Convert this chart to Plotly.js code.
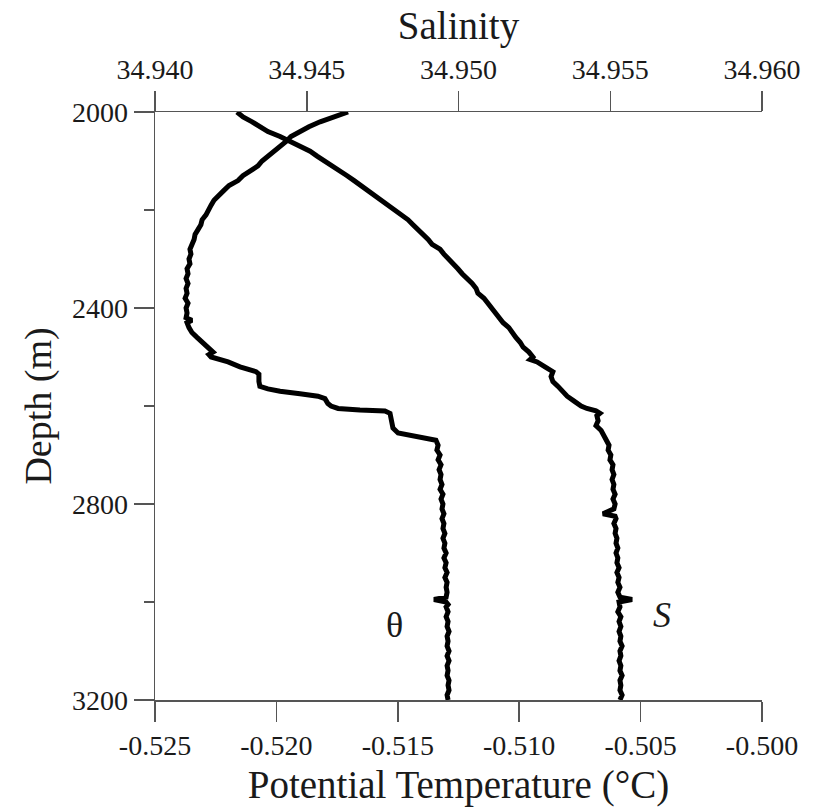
<!DOCTYPE html>
<html>
<head>
<meta charset="utf-8">
<script src="https://cdn.plot.ly/plotly-3.0.1.min.js"></script>
<style>
  html, body { margin: 0; padding: 0; background: #ffffff; }
  #chart { width: 821px; height: 810px; }
</style>
</head>
<body>
<div id="chart"></div>
<script>
// ---- Potential temperature profile (bottom axis) ----
const thetaDepth = [2000,2005,2010,2020,2030,2040,2050,2060,2070,2080,2090,2100,2110,2120,2130,2140,2150,2160,2170,2180,2190,2200,2210,2220,2230,2240,2250,2260,2270,2280,2290,2300,2310,2320,2330,2340,2350,2360,2370,2380,2390,2400,2410,2420,2425,2430,2440,2450,2460,2470,2480,2490,2495,2500,2510,2520,2530,2535,2550,2560,2565,2570,2575,2580,2585,2595,2600,2605,2608,2610,2615,2630,2645,2655,2660,2665,2670,2680,2690,2700,2710,2720,2730,2740,2750,2760,2770,2780,2790,2800,2810,2820,2830,2840,2850,2860,2870,2880,2890,2900,2910,2920,2930,2940,2950,2960,2970,2980,2990,2995,3000,3005,3010,3020,3030,3040,3050,3060,3070,3080,3090,3100,3110,3120,3130,3140,3150,3160,3170,3180,3190,3200];
const thetaValues = [-0.51705,-0.51738,-0.51767,-0.51820,-0.51866,-0.51907,-0.51940,-0.51960,-0.51985,-0.52010,-0.52039,-0.52059,-0.52076,-0.52109,-0.52138,-0.52158,-0.52195,-0.52216,-0.52236,-0.52257,-0.52269,-0.52278,-0.52290,-0.52306,-0.52311,-0.52323,-0.52335,-0.52339,-0.52348,-0.52356,-0.52352,-0.52360,-0.52356,-0.52368,-0.52364,-0.52372,-0.52364,-0.52372,-0.52368,-0.52376,-0.52364,-0.52372,-0.52368,-0.52372,-0.52348,-0.52368,-0.52360,-0.52348,-0.52327,-0.52306,-0.52286,-0.52261,-0.52278,-0.52269,-0.52199,-0.52150,-0.52084,-0.52072,-0.52072,-0.52068,-0.52035,-0.51985,-0.51903,-0.51829,-0.51800,-0.51788,-0.51775,-0.51746,-0.51656,-0.51553,-0.51532,-0.51528,-0.51520,-0.51499,-0.51442,-0.51376,-0.51343,-0.51334,-0.51339,-0.51326,-0.51334,-0.51322,-0.51330,-0.51322,-0.51326,-0.51318,-0.51326,-0.51314,-0.51322,-0.51314,-0.51318,-0.51310,-0.51318,-0.51310,-0.51314,-0.51306,-0.51314,-0.51306,-0.51310,-0.51301,-0.51310,-0.51301,-0.51306,-0.51297,-0.51306,-0.51297,-0.51301,-0.51297,-0.51301,-0.51351,-0.51301,-0.51293,-0.51301,-0.51293,-0.51301,-0.51293,-0.51297,-0.51289,-0.51297,-0.51293,-0.51297,-0.51289,-0.51297,-0.51289,-0.51297,-0.51293,-0.51297,-0.51289,-0.51293,-0.51289,-0.51297,-0.51293];

// ---- Salinity profile (top axis) ----
const salDepth = [2000,2010,2020,2030,2040,2050,2060,2070,2080,2090,2100,2110,2120,2130,2140,2150,2160,2170,2180,2190,2200,2210,2220,2230,2240,2250,2260,2270,2280,2290,2300,2310,2320,2330,2340,2350,2360,2370,2380,2390,2400,2410,2420,2430,2440,2450,2460,2470,2480,2490,2500,2505,2510,2520,2530,2540,2550,2560,2570,2580,2590,2600,2605,2610,2615,2620,2630,2640,2650,2660,2670,2680,2690,2700,2710,2720,2730,2740,2750,2760,2770,2780,2790,2800,2810,2820,2825,2830,2840,2850,2860,2870,2880,2890,2900,2910,2920,2930,2940,2950,2960,2970,2980,2990,2995,3000,3010,3020,3030,3040,3050,3060,3070,3080,3090,3100,3110,3120,3130,3140,3150,3160,3170,3180,3190,3200];
const salValues = [34.94270,34.94290,34.94320,34.94346,34.94372,34.94412,34.94445,34.94478,34.94511,34.94534,34.94560,34.94583,34.94610,34.94633,34.94656,34.94679,34.94702,34.94725,34.94748,34.94768,34.94791,34.94814,34.94834,34.94850,34.94867,34.94886,34.94900,34.94913,34.94939,34.94952,34.94969,34.94982,34.94998,34.95012,34.95031,34.95045,34.95058,34.95064,34.95084,34.95097,34.95107,34.95124,34.95133,34.95147,34.95166,34.95176,34.95189,34.95203,34.95213,34.95232,34.95245,34.95236,34.95259,34.95285,34.95311,34.95305,34.95311,34.95328,34.95341,34.95358,34.95381,34.95404,34.95423,34.95453,34.95466,34.95456,34.95460,34.95453,34.95470,34.95479,34.95489,34.95496,34.95493,34.95502,34.95499,34.95509,34.95506,34.95512,34.95506,34.95512,34.95509,34.95516,34.95509,34.95516,34.95512,34.95476,34.95516,34.95519,34.95512,34.95519,34.95516,34.95522,34.95519,34.95525,34.95519,34.95525,34.95522,34.95529,34.95522,34.95529,34.95525,34.95532,34.95525,34.95532,34.95572,34.95529,34.95532,34.95525,34.95535,34.95529,34.95535,34.95529,34.95535,34.95532,34.95539,34.95532,34.95535,34.95529,34.95535,34.95532,34.95539,34.95532,34.95535,34.95532,34.95539,34.95532];

// ---- Tick labels ----
const thetaTickVals = [-0.525,-0.520,-0.515,-0.510,-0.505,-0.500];
const thetaTickText = ["-0.525","-0.520","-0.515","-0.510","-0.505","-0.500"];
const salTickVals = [34.940,34.945,34.950,34.955,34.960];
const salTickText = ["34.940","34.945","34.950","34.955","34.960"];
const depthTickVals = [2000,2400,2800,3200];
const depthTickText = ["2000","2400","2800","3200"];
const depthMinorVals = [2200,2600,3000];

const FONT = "Liberation Serif, Times New Roman, Times, DejaVu Serif, serif";
const AXC = "#555555";
const TXT = "#1a1a1a";

const traces = [
  { x: thetaValues, y: thetaDepth, xaxis: 'x', yaxis: 'y', type: 'scatter', mode: 'lines',
    line: { color: '#000000', width: 5 }, hoverinfo: 'skip' },
  { x: salValues, y: salDepth, xaxis: 'x2', yaxis: 'y', type: 'scatter', mode: 'lines',
    line: { color: '#000000', width: 5 }, hoverinfo: 'skip' }
];

const commonAxis = {
  ticks: 'outside', ticklen: 20, tickwidth: 1.5, tickcolor: AXC,
  showline: true, linecolor: AXC, linewidth: 1.5,
  showgrid: false, zeroline: false,
  tickfont: { family: FONT, size: 28, color: TXT },
  automargin: false
};

const layout = {
  width: 821, height: 810,
  margin: { l: 155, r: 59, t: 112, b: 110 },
  paper_bgcolor: '#ffffff', plot_bgcolor: '#ffffff',
  showlegend: false,
  font: { family: FONT, color: TXT },
  xaxis: Object.assign({}, commonAxis, {
    range: [-0.525, -0.500], tickmode: 'array', tickvals: thetaTickVals, ticktext: thetaTickText,
    side: 'bottom', anchor: 'y',
    title: { text: 'Potential Temperature (°C)', font: { family: FONT, size: 39, color: TXT }, standoff: 10 }
  }),
  xaxis2: Object.assign({}, commonAxis, {
    range: [34.940, 34.960], tickmode: 'array', tickvals: salTickVals, ticktext: salTickText,
    side: 'top', overlaying: 'x', anchor: 'y',
    title: { text: 'Salinity', font: { family: FONT, size: 39, color: TXT }, standoff: 2 }
  }),
  yaxis: Object.assign({}, commonAxis, {
    range: [3200, 2000], tickmode: 'array', tickvals: depthTickVals, ticktext: depthTickText,
    minor: { tickmode: 'array', tickvals: depthMinorVals, ticks: 'outside', ticklen: 10, tickwidth: 1.5, tickcolor: AXC, showgrid: false },
    title: { text: 'Depth (m)', font: { family: FONT, size: 38, color: TXT }, standoff: 8 }
  }),
  annotations: [
    { xref: 'paper', yref: 'paper', x: 0.395, y: 0.128, yanchor: 'middle', text: 'θ', showarrow: false,
      font: { family: FONT, size: 36, color: TXT } },
    { xref: 'paper', yref: 'paper', x: 0.853, y: 0.145, yanchor: 'middle', text: '<i>S</i>', showarrow: false,
      font: { family: FONT, size: 36, color: TXT } }
  ]
};

Plotly.newPlot('chart', traces, layout, { staticPlot: true, displayModeBar: false });
</script>
</body>
</html>
